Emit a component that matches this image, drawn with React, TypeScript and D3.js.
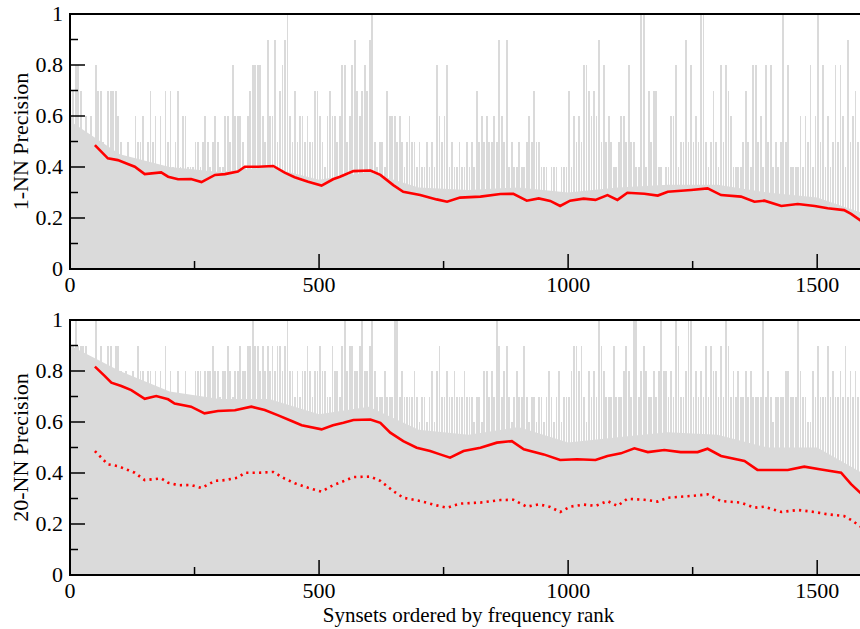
import * as d3 from "d3";
import React from "react";

const svgWidth = 860;
const svgHeight = 629;
const plotLeft = 70;
const plotRight = 867; // right frame sits just outside the picture
const font = "'Liberation Serif', 'Times New Roman', serif";

// per-synset precision, in tenths, one bar per 5 ranks
const binSize = 5;
const spikes1NN = [
  6, 7, 8, 8, 7, 4, 6, 5, 6, 4, 8, 7, 7, 5, 4, 7, 7, 7, 7, 6,
  5, 4, 4, 5, 4, 3, 6, 5, 5, 6, 4, 5, 7, 5, 6, 4, 6, 4, 7, 5,
  7, 4, 5, 7, 4, 6, 6, 4, 4, 4, 5, 5, 4, 5, 6, 5, 4, 5, 6, 5,
  4, 4, 6, 6, 5, 8, 6, 6, 6, 5, 4, 6, 7, 8, 8, 8, 8, 6, 5, 9,
  6, 6, 9, 5, 7, 8, 9, 10, 6, 5, 7, 5, 6, 6, 5, 6, 5, 5, 7, 7,
  6, 5, 4, 6,
  7, 6, 6, 5, 6, 8, 8, 5, 6, 8, 9, 7, 6, 7, 8, 7, 9, 10, 5, 4,
  5, 5, 4, 7, 6, 6, 6, 5, 6, 5, 4, 5, 6, 5, 5, 4, 5, 4, 4, 5,
  4, 5, 4, 8, 6, 5, 6, 8, 4, 5, 4, 4, 5, 4, 4, 5, 4, 5, 4, 7,
  5, 6, 5, 6, 5, 5, 6, 5, 9, 6, 5, 9, 4, 5, 4, 4, 5, 4, 4, 5,
  6, 5, 7, 5, 5, 4, 4, 4, 3, 4, 4, 4, 3, 4, 4, 4, 7, 4, 6, 5,
  6, 5, 8, 8, 7, 6, 7, 6,
  9, 5, 8, 5, 6, 5, 4, 4, 5, 6, 6, 5, 8, 5, 5, 4, 4, 10, 10, 4,
  7, 5, 7, 7, 4, 4, 3, 4, 4, 6, 6, 8, 4, 5, 5, 9, 5, 8, 5, 6,
  5, 10, 10, 5, 4, 5, 7, 5, 4, 8, 5, 8, 7, 6, 4, 4, 4, 4, 5, 7,
  5, 4, 8, 8, 5, 6, 4, 8, 5, 8, 4, 5, 4, 5, 10, 5, 8, 4, 4, 4,
  4, 6, 4, 6, 5, 8, 4, 6, 10, 5, 8, 4, 6, 4, 5, 8, 5, 8, 6, 4,
  9, 5, 6, 7, 5, 6,
];
const spikes20NN = [
  9, 9, 10, 9, 9, 9, 9, 8, 8, 8, 10, 8, 9, 8, 7, 9, 9, 8, 9, 9,
  8, 7, 8, 7, 7, 8, 7, 9, 8, 8, 7, 8, 8, 7, 8, 7, 8, 7, 9, 7,
  8, 7, 7, 8, 7, 7, 8, 7, 7, 7, 8, 8, 8, 7, 8, 8, 8, 9, 8, 8,
  7, 8, 8, 9, 8, 7, 8, 8, 9, 8, 8, 9, 9, 10, 9, 9, 8, 9, 8, 9,
  8, 9, 8, 9, 9, 8, 9, 10, 8, 8, 7, 8, 7, 8, 8, 9, 8, 7, 8, 8,
  9, 8, 8, 7,
  7, 9, 8, 8, 7, 9, 10, 8, 9, 9, 8, 8, 9, 10, 8, 8, 9, 10, 8, 7,
  7, 7, 8, 7, 7, 7, 10, 10, 7, 8, 7, 7, 7, 7, 8, 7, 6, 7, 7, 6,
  7, 8, 6, 8, 9, 7, 7, 8, 7, 7, 8, 7, 7, 7, 8, 7, 7, 7, 6, 7,
  7, 6, 8, 8, 7, 8, 7, 10, 9, 7, 8, 9, 7, 6, 7, 8, 7, 7, 9, 7,
  6, 7, 7, 6, 7, 7, 6, 7, 8, 7, 6, 7, 8, 6, 7, 7, 7, 8, 9, 9,
  8, 9, 7, 6, 8, 7, 8, 7,
  10, 9, 8, 7, 7, 7, 9, 7, 7, 7, 8, 9, 8, 7, 10, 10, 7, 8, 9, 8,
  7, 7, 8, 7, 8, 10, 8, 8, 7, 8, 7, 10, 9, 7, 7, 8, 10, 10, 7, 8,
  7, 8, 7, 9, 7, 9, 8, 8, 7, 9, 7, 10, 9, 7, 8, 7, 8, 7, 7, 8,
  7, 8, 7, 7, 7, 7, 10, 7, 8, 7, 6, 7, 7, 7, 7, 8, 8, 7, 7, 7,
  10, 8, 7, 7, 6, 6, 8, 7, 9, 7, 7, 7, 9, 7, 8, 7, 7, 8, 7, 9,
  7, 8, 7, 8, 7, 6,
];

// level below which the bars are packed solid
const floorRanks = [0, 100, 200, 300, 400, 500, 600, 700, 800, 900, 1000, 1100, 1200, 1300, 1400, 1500, 1590];
const floor1NN = [0.58, 0.45, 0.4, 0.38, 0.4, 0.35, 0.38, 0.32, 0.31, 0.32, 0.3, 0.32, 0.33, 0.33, 0.3, 0.28, 0.22];
const floor20NN = [0.9, 0.8, 0.72, 0.69, 0.69, 0.63, 0.66, 0.57, 0.55, 0.58, 0.52, 0.54, 0.56, 0.55, 0.5, 0.5, 0.4];

// running average of 1-NN precision
const ranks1NN = [
  50, 76, 96, 116, 130, 150, 183, 197, 217, 243, 264, 291, 311, 337, 351, 378, 408, 431, 451, 478,
  505, 528, 542, 569, 603, 623, 649, 669, 703, 736, 757, 783, 824, 864, 890, 917, 941, 964, 984, 1004,
  1031, 1055, 1079, 1099, 1119, 1153, 1180, 1200, 1247, 1280, 1307, 1347, 1374, 1394, 1428, 1461, 1495, 1521, 1554, 1568,
  1590,
];
const prec1NN = [
  0.486, 0.434, 0.427, 0.412, 0.401, 0.372, 0.379, 0.362, 0.352, 0.353, 0.341, 0.369, 0.372, 0.382, 0.401, 0.401, 0.404, 0.378, 0.36, 0.342,
  0.327, 0.352, 0.362, 0.384, 0.386, 0.369, 0.329, 0.303, 0.29, 0.273, 0.264, 0.28, 0.284, 0.294, 0.295, 0.268, 0.277, 0.267, 0.247, 0.268,
  0.276, 0.271, 0.29, 0.271, 0.299, 0.295, 0.288, 0.303, 0.31, 0.316, 0.29, 0.284, 0.264, 0.268, 0.247, 0.255, 0.247, 0.238, 0.231, 0.216,
  0.186,
];

// running average of 20-NN precision
const ranks20NN = [
  50, 70, 83, 103, 123, 150, 173, 197, 210, 243, 270, 297, 331, 364, 391, 418, 445, 465, 505, 528,
  549, 569, 603, 623, 643, 669, 696, 723, 743, 763, 790, 824, 857, 887, 911, 951, 984, 1018, 1055, 1079,
  1106, 1133, 1160, 1193, 1226, 1260, 1280, 1307, 1354, 1380, 1407, 1441, 1474, 1508, 1548, 1568, 1590,
];
const prec20NN = [
  0.817, 0.78, 0.754, 0.741, 0.725, 0.691, 0.702, 0.689, 0.672, 0.66, 0.634, 0.643, 0.646, 0.66, 0.647, 0.626, 0.604, 0.587, 0.571, 0.587,
  0.597, 0.608, 0.61, 0.597, 0.558, 0.525, 0.499, 0.486, 0.473, 0.46, 0.486, 0.499, 0.519, 0.525, 0.493, 0.473, 0.451, 0.454, 0.451, 0.467,
  0.477, 0.497, 0.482, 0.49, 0.482, 0.482, 0.495, 0.467, 0.447, 0.412, 0.412, 0.412, 0.425, 0.414, 0.401, 0.356, 0.316,
];

const yTickValues = [0, 0.2, 0.4, 0.6, 0.8, 1];
const xTickValues = [0, 500, 1000, 1500];

const x = d3.scaleLinear().domain([0, 1600]).range([plotLeft, plotRight]);

function Panel({ top, bottom, spikes, floor, lines, title, showX }) {
  const y = d3.scaleLinear().domain([0, 1]).range([bottom, top]);

  const floorArea = d3
    .area()
    .x((d, i) => x(floorRanks[i]))
    .y0(y(0))
    .y1((d) => y(d));

  const line = d3
    .line()
    .x((d) => x(d[0]))
    .y((d) => y(d[1]));

  const binW = x(binSize) - x(0);
  const minorY = d3.range(0, 11).map((i) => i / 10);
  const minorX = d3.range(0, 1601, 250);

  return (
    <g>
      <path d={floorArea(floor)} fill="#dadada" />
      <g shapeRendering="crispEdges" fill="#dadada">
        {spikes.map((v, i) => (
          <rect
            key={i}
            x={x(i * binSize)}
            y={y(v / 10)}
            width={binW * 0.7}
            height={y(0) - y(v / 10)}
          />
        ))}
      </g>

      {lines.map((l, k) => (
        <path
          key={k}
          d={line(l.ranks.map((r, i) => [r, l.values[i]]))}
          fill="none"
          stroke="#ff0000"
          strokeWidth={2.6}
          strokeDasharray={l.dotted ? "2.2 4.2" : null}
        />
      ))}

      {/* ticks point into the plot */}
      {minorY.map((t, i) => (
        <line
          key={"yt" + i}
          x1={plotLeft}
          x2={plotLeft + (i % 2 === 0 ? 15 : 8)}
          y1={y(t)}
          y2={y(t)}
          stroke="#000"
          strokeWidth={1.5}
        />
      ))}
      {minorX.map((t) => (
        <line
          key={"xt" + t}
          x1={x(t)}
          x2={x(t)}
          y1={bottom}
          y2={bottom - (t % 500 === 0 ? 15 : 8)}
          stroke="#000"
          strokeWidth={1.5}
        />
      ))}
      <rect
        x={plotLeft}
        y={top}
        width={plotRight - plotLeft}
        height={bottom - top}
        fill="none"
        stroke="#000"
        strokeWidth={2}
      />

      {yTickValues.map((t) => (
        <text key={"yl" + t} x={plotLeft - 7} y={y(t)} dy="0.34em" textAnchor="end" fontSize={22} fontFamily={font}>
          {String(t)}
        </text>
      ))}
      {xTickValues.map((t) => (
        <text key={"xl" + t} x={x(t)} y={bottom + 23} textAnchor="middle" fontSize={22} fontFamily={font}>
          {String(t)}
        </text>
      ))}
      <text
        transform={`translate(28,${(top + bottom) / 2}) rotate(-90)`}
        textAnchor="middle"
        fontSize={22}
        fontFamily={font}
      >
        {title}
      </text>
      {showX && (
        <text x={(plotLeft + plotRight) / 2} y={622} textAnchor="middle" fontSize={21} fontFamily={font}>
          Synsets ordered by frequency rank
        </text>
      )}
    </g>
  );
}

export default function App() {
  return (
    <svg
      width={svgWidth}
      height={svgHeight}
      style={{ position: "absolute", left: 0, top: 0, background: "#fff" }}
    >
      <Panel
        top={14}
        bottom={269}
        spikes={spikes1NN}
        floor={floor1NN}
        lines={[{ ranks: ranks1NN, values: prec1NN }]}
        title="1-NN Precision"
        showX={false}
      />
      <Panel
        top={320}
        bottom={575}
        spikes={spikes20NN}
        floor={floor20NN}
        lines={[
          { ranks: ranks20NN, values: prec20NN },
          { ranks: ranks1NN, values: prec1NN, dotted: true },
        ]}
        title="20-NN Precision"
        showX={true}
      />
    </svg>
  );
}
